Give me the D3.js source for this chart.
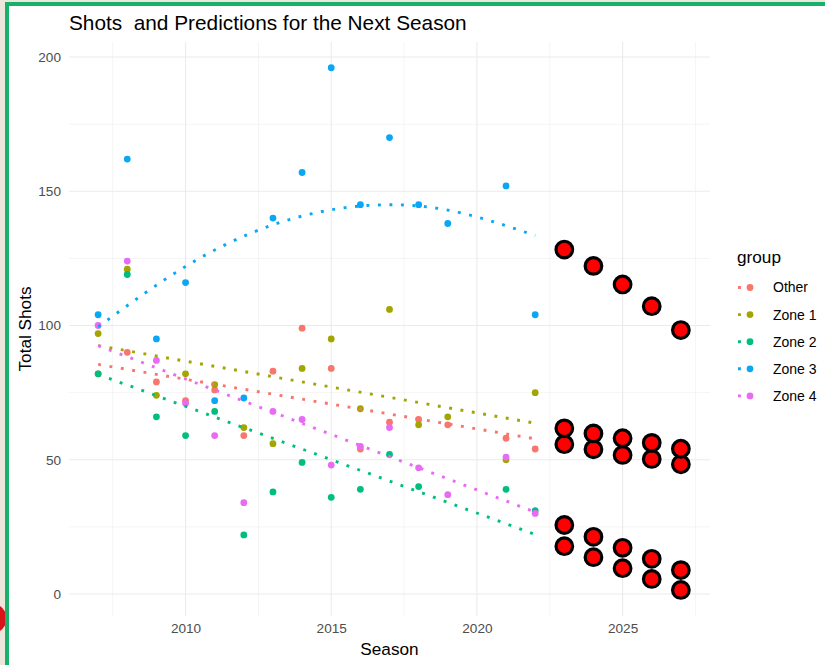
<!DOCTYPE html>
<html>
<head>
<meta charset="utf-8">
<script src="https://cdn.jsdelivr.net/npm/d3@7"></script>
<style>
  body { margin: 0; background: #fff; }
  svg { display: block; font-family: "Liberation Sans", Arial, sans-serif; }
</style>
</head>
<body>
<div id="chart"></div>
<script>
// observed seasons (no 2020 season)
var seasons = [2007, 2008, 2009, 2010, 2011, 2012, 2013, 2014, 2015, 2016, 2017, 2018, 2019, 2021, 2022];
var groups = ["Other", "Zone 1", "Zone 2", "Zone 3", "Zone 4"];

var shotsOther = [82, 90, 79, 72, 76, 59, 83, 99, 84, 54, 64, 65, 63, 58, 54];
var shotsZone1 = [97, 121, 74, 82, 78, 62, 56, 84, 95, 69, 106, 63, 66, 50, 75];
var shotsZone2 = [82, 119, 66, 59, 68, 22, 38, 49, 36, 39, 52, 40, null, 39, 31];
var shotsZone3 = [104, 162, 95, 116, 72, 73, 140, 157, 196, 145, 170, 145, 138, 152, 104];
var shotsZone4 = [100, 124, 87, 71, 59, 34, 68, 65, 48, 55, 62, 47, 37, 51, 30];

// trend lines
var trendYears = [2007, 2022];
var trendOther = [85.5, 57.8];
var trendZone1 = [92.5, 63.6];
var trendZone2 = [81.8, 22.2];
var trendZone4 = [92.5, 30.5];
var curveYears = [2007, 2010, 2013, 2016, 2019, 2022];
var trendZone3 = [99.5, 122, 137.5, 144.5, 143, 133.5];

// predictions for the next seasons
var predYears = [2023, 2024, 2025, 2026, 2027];
var predOther = [55.8, 53.9, 51.8, 50.3, 48.3];
var predZone1 = [61.7, 59.8, 58.0, 56.3, 54.1];
var predZone2 = [17.8, 13.7, 9.6, 5.6, 1.5];
var predZone3 = [128.3, 122.2, 115.3, 107.2, 98.3];
var predZone4 = [25.7, 21.3, 17.2, 13.1, 8.9];

var xTicks = [2010, 2015, 2020, 2025];
var xMinor = [2007.5, 2012.5, 2017.5, 2022.5, 2027.5];
var yTicks = [0, 50, 100, 150, 200];
var yMinor = [25, 75, 125, 175];

var shots = [shotsOther, shotsZone1, shotsZone2, shotsZone3, shotsZone4];
var trends = [
  {years: trendYears, vals: trendOther},
  {years: trendYears, vals: trendZone1},
  {years: trendYears, vals: trendZone2},
  {years: curveYears, vals: trendZone3},
  {years: trendYears, vals: trendZone4}
];
var preds = [predOther, predZone1, predZone2, predZone3, predZone4];

var width = 825, height = 665;
var pLeft = 69, pRight = 710, pTop = 42, pBottom = 616;

var svg = d3.select("#chart")
            .append("svg")
            .attr("width", width)
            .attr("height", height);

// screenshot frame
svg.append("rect").attr("x", 0).attr("y", 0).attr("width", 5).attr("height", height).attr("fill", "#ede6dc");
svg.append("rect").attr("x", 0).attr("y", 0).attr("width", width).attr("height", 2).attr("fill", "#ede6dc");
svg.append("path").attr("d", "M0,606 A15,15 0 0 1 0,631 Z").attr("fill", "#d7141a");
svg.append("rect").attr("x", 5).attr("y", 2).attr("width", 4).attr("height", height).attr("fill", "#17b169");
svg.append("rect").attr("x", 5).attr("y", 2).attr("width", width).attr("height", 4).attr("fill", "#17b169");

var x = d3.scaleLinear().domain([2006, 2028]).range([pLeft, pRight]);
var y = d3.scaleLinear().domain([-8.2, 205.6]).range([pBottom, pTop]);

var color = d3.scaleOrdinal()
              .domain(groups)
              .range(["#F8766D", "#A3A500", "#00BF7D", "#0AA8F4", "#E76BF3"]);

// grid
var grid = svg.append("g");
grid.selectAll(".ymin").data(yMinor).enter().append("line")
    .attr("x1", pLeft).attr("x2", pRight)
    .attr("y1", d => y(d)).attr("y2", d => y(d))
    .attr("stroke", "#ebebeb").attr("stroke-width", 0.55);
grid.selectAll(".xmin").data(xMinor).enter().append("line")
    .attr("y1", pTop).attr("y2", pBottom)
    .attr("x1", d => x(d)).attr("x2", d => x(d))
    .attr("stroke", "#ebebeb").attr("stroke-width", 0.55);
grid.selectAll(".ymaj").data(yTicks).enter().append("line")
    .attr("x1", pLeft).attr("x2", pRight)
    .attr("y1", d => y(d)).attr("y2", d => y(d))
    .attr("stroke", "#ebebeb").attr("stroke-width", 1.1);
grid.selectAll(".xmaj").data(xTicks).enter().append("line")
    .attr("y1", pTop).attr("y2", pBottom)
    .attr("x1", d => x(d)).attr("x2", d => x(d))
    .attr("stroke", "#ebebeb").attr("stroke-width", 1.1);

// axes
var yAxis = svg.append("g")
    .attr("transform", "translate(" + pLeft + ",0)")
    .call(d3.axisLeft(y).tickValues(yTicks).tickSize(0).tickPadding(8));
var xAxis = svg.append("g")
    .attr("transform", "translate(0," + pBottom + ")")
    .call(d3.axisBottom(x).tickValues(xTicks).tickFormat(d3.format("d")).tickSize(0).tickPadding(7));
[xAxis, yAxis].forEach(function (a) {
  a.select(".domain").remove();
  a.selectAll("text")
   .style("font-family", "'Liberation Sans', Arial, sans-serif")
   .style("font-size", "13.6px")
   .attr("fill", "#4d4d4d");
});

// points
groups.forEach(function (g, i) {
  var pts = seasons.map((s, j) => ({year: s, v: shots[i][j]})).filter(d => d.v != null);
  svg.append("g").selectAll("circle")
     .data(pts).enter().append("circle")
     .attr("cx", d => x(d.year))
     .attr("cy", d => y(d.v))
     .attr("r", 3.4)
     .attr("fill", color(g));
});

// dotted trend lines
var line = d3.line().x(d => x(d[0])).y(d => y(d[1]));
groups.forEach(function (g, i) {
  var t = trends[i];
  var pts = t.years.map((yr, j) => [yr, t.vals[j]]);
  svg.append("path")
     .attr("d", line.curve(t.years.length > 2 ? d3.curveNatural : d3.curveLinear)(pts))
     .attr("fill", "none")
     .attr("stroke", color(g))
     .attr("stroke-width", 2.9)
     .attr("stroke-dasharray", "2.9 8.6");
});

// predictions
preds.forEach(function (p) {
  svg.append("g").selectAll("circle")
     .data(p).enter().append("circle")
     .attr("cx", (d, j) => x(predYears[j]))
     .attr("cy", d => y(d))
     .attr("r", 8.3)
     .attr("fill", "#ff0000")
     .attr("stroke", "#000")
     .attr("stroke-width", 3.2);
});

// titles
svg.append("text")
   .attr("x", pLeft).attr("y", 30)
   .text("Shots  and Predictions for the Next Season")
   .style("font-size", "20.8px")
   .style("white-space", "pre")
   .attr("fill", "#000");
svg.append("text")
   .attr("x", (pLeft + pRight) / 2).attr("y", 655)
   .attr("text-anchor", "middle")
   .text("Season")
   .style("font-size", "17.2px");
svg.append("text")
   .attr("transform", "translate(31," + ((pTop + pBottom) / 2) + ") rotate(-90)")
   .attr("text-anchor", "middle")
   .text("Total Shots")
   .style("font-size", "17.2px");

// legend
var legend = svg.append("g");
legend.append("text")
      .attr("x", 737).attr("y", 263)
      .text("group")
      .style("font-size", "17.2px");
var items = legend.selectAll(".item").data(groups).enter().append("g")
      .attr("transform", (d, i) => "translate(0," + (287.5 + i * 27.1) + ")");
items.append("line")
     .attr("x1", 738).attr("x2", 756).attr("y1", 0).attr("y2", 0)
     .attr("stroke", d => color(d))
     .attr("stroke-width", 2.9)
     .attr("stroke-dasharray", "2.9 8.6");
items.append("circle")
     .attr("cx", 750).attr("cy", 0).attr("r", 3.4)
     .attr("fill", d => color(d));
items.append("text")
     .attr("x", 773).attr("y", 0)
     .attr("dy", "0.35em")
     .text(d => d)
     .style("font-size", "14px");
</script>
</body>
</html>
